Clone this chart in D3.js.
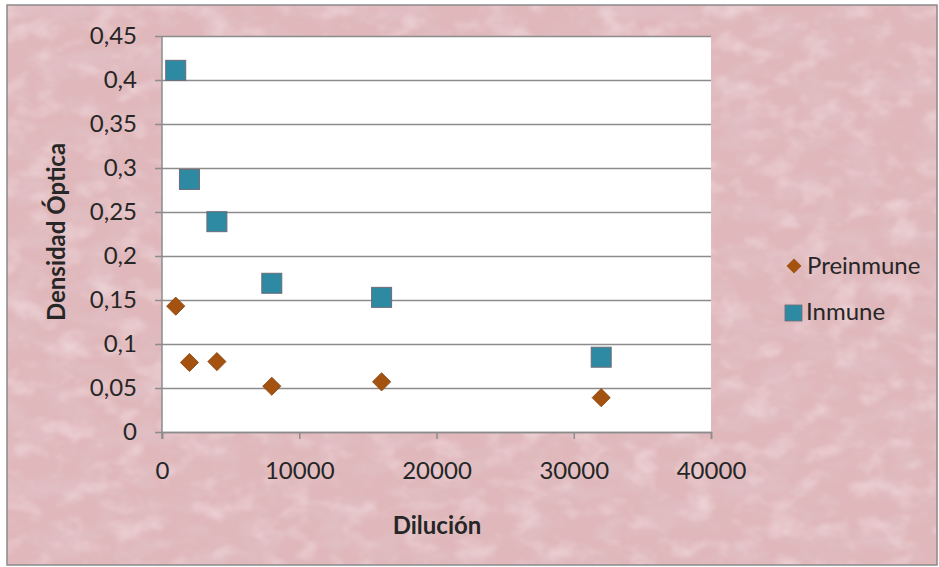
<!DOCTYPE html>
<html>
<head>
<meta charset="utf-8">
<script src="https://cdn.jsdelivr.net/npm/d3@7"></script>
<style>
  html, body { margin: 0; padding: 0; background: #ffffff; }
  svg { display: block; }
  text { font-family: Lato, "Open Sans", "Liberation Sans", sans-serif; fill: #262626; }
</style>
</head>
<body>
<svg id="chart" width="939" height="567"></svg>
<script>
// Dilution series and optical density readings
const diluciones = [1000, 2000, 4000, 8000, 16000, 32000];
const preinmune  = [0.143, 0.079, 0.080, 0.052, 0.057, 0.039];
const inmune     = [0.411, 0.287, 0.239, 0.169, 0.153, 0.085];
const xTicks = [0, 10000, 20000, 30000, 40000];
const yTicks = [0, 0.05, 0.1, 0.15, 0.2, 0.25, 0.3, 0.35, 0.4, 0.45];
const seriesNames = ["Preinmune", "Inmune"];

const W = 939, H = 567;
const plot = { left: 162, right: 711, top: 36, bottom: 432 };
const FS = 24;

const svg = d3.select("#chart");

// Soft mottled pink paper texture: darker and lighter blotches over a base tone
const defs = svg.append("defs");
const f = defs.append("filter").attr("id", "paper")
  .attr("x", 0).attr("y", 0).attr("width", "100%").attr("height", "100%");
f.append("feTurbulence").attr("type", "fractalNoise")
  .attr("baseFrequency", "0.025 0.04").attr("numOctaves", 4).attr("seed", 5).attr("result", "n1");
f.append("feColorMatrix").attr("in", "n1").attr("type", "matrix")
  .attr("values", "0 0 0 0 0.76  0 0 0 0 0.57  0 0 0 0 0.6  1.3 0 0 0 -0.6").attr("result", "dark");
f.append("feTurbulence").attr("type", "fractalNoise")
  .attr("baseFrequency", "0.035 0.05").attr("numOctaves", 3).attr("seed", 11).attr("result", "n2");
f.append("feColorMatrix").attr("in", "n2").attr("type", "matrix")
  .attr("values", "0 0 0 0 1  0 0 0 0 0.9  0 0 0 0 0.91  0.9 0 0 0 -0.45").attr("result", "lightRaw");
f.append("feGaussianBlur").attr("in", "lightRaw").attr("stdDeviation", 1.2).attr("result", "light");
f.append("feMerge").call(m => {
  m.append("feMergeNode").attr("in", "SourceGraphic");
  m.append("feMergeNode").attr("in", "dark");
  m.append("feMergeNode").attr("in", "light");
}).attr("result", "merged");
f.append("feComposite").attr("in", "merged").attr("in2", "SourceGraphic").attr("operator", "in");

svg.append("rect").attr("x", 0).attr("y", 0).attr("width", W).attr("height", H).attr("fill", "#ffffff");
svg.append("rect").attr("x", 7).attr("y", 5).attr("width", 930).attr("height", 560)
  .attr("fill", "#e0b8bc").attr("filter", "url(#paper)");
svg.append("rect").attr("x", 7).attr("y", 5).attr("width", 930).attr("height", 560)
  .attr("fill", "none").attr("stroke", "#8a8a8a").attr("stroke-width", 1.5);

const x = d3.scaleLinear().domain([0, 40000]).range([plot.left, plot.right]);
const y = d3.scaleLinear().domain([0, 0.45]).range([plot.bottom, plot.top]);

// Plot area
svg.append("rect").attr("x", plot.left).attr("y", plot.top)
  .attr("width", plot.right - plot.left).attr("height", plot.bottom - plot.top)
  .attr("fill", "#ffffff");

const fmtY = d => d3.format(".2~f")(d).replace(".", ",");

// Y axis with gridlines
const yAxis = svg.append("g").attr("transform", `translate(${plot.left},0)`)
  .call(d3.axisLeft(y).tickValues(yTicks).tickFormat(fmtY)
    .tickSize(-(plot.right - plot.left)).tickPadding(25));
yAxis.select(".domain").remove();
yAxis.selectAll(".tick line").attr("stroke", "#8c8c8c").attr("stroke-width", 1.5)
  .attr("x1", -7);
yAxis.selectAll(".tick text").attr("font-size", FS).attr("fill", "#262626");

// X axis
const xAxis = svg.append("g").attr("transform", `translate(0,${plot.bottom})`)
  .call(d3.axisBottom(x).tickValues(xTicks).tickFormat(d3.format("d"))
    .tickSize(7).tickPadding(23));
xAxis.select(".domain").attr("stroke", "#8c8c8c").attr("stroke-width", 1.5);
xAxis.selectAll(".tick line").attr("stroke", "#8c8c8c").attr("stroke-width", 1.5);
xAxis.selectAll(".tick text").attr("font-size", FS).attr("fill", "#262626");

// Vertical axis line
svg.append("line").attr("x1", plot.left).attr("x2", plot.left)
  .attr("y1", plot.top).attr("y2", plot.bottom + 7)
  .attr("stroke", "#8c8c8c").attr("stroke-width", 1.5);

// Axis titles
svg.append("text").attr("transform", `translate(65,232) rotate(-90)`)
  .attr("text-anchor", "middle").attr("font-size", 24).attr("font-weight", "bold")
  .attr("fill", "#1a1a1a").text("Densidad Óptica");
svg.append("text").attr("x", 437).attr("y", 534)
  .attr("text-anchor", "middle").attr("font-size", FS).attr("font-weight", "bold")
  .attr("fill", "#1a1a1a").text("Dilución");

// Diamond: a square turned by 45 degrees
const diamond = d3.symbol().type(d3.symbolSquare).size(165);
const brown = "#a4520f", teal = "#2d8aa2";

// Preinmune: brown diamonds
svg.append("g").selectAll("path").data(diluciones.map((d, i) => [d, preinmune[i]]))
  .join("path")
  .attr("d", diamond)
  .attr("transform", d => `translate(${x(d[0])},${y(d[1])}) rotate(45)`)
  .attr("fill", brown).attr("stroke", "#8a4410").attr("stroke-width", 0.8);

// Inmune: teal squares
const sq = 20;
svg.append("g").selectAll("rect").data(diluciones.map((d, i) => [d, inmune[i]]))
  .join("rect")
  .attr("x", d => x(d[0]) - sq / 2).attr("y", d => y(d[1]) - sq / 2)
  .attr("width", sq).attr("height", sq)
  .attr("fill", teal).attr("stroke", "#6e6b78").attr("stroke-width", 1);

// Legend
const lg = svg.append("g");
lg.append("path").attr("d", d3.symbol().type(d3.symbolSquare).size(112))
  .attr("transform", "translate(794,266) rotate(45)").attr("fill", brown);
lg.append("text").attr("x", 807).attr("y", 274).attr("font-size", FS).text(seriesNames[0]);
lg.append("rect").attr("x", 785).attr("y", 305).attr("width", 17).attr("height", 16)
  .attr("fill", teal).attr("stroke", "#6e6b78").attr("stroke-width", 0.8);
lg.append("text").attr("x", 806).attr("y", 320).attr("font-size", FS).text(seriesNames[1]);
</script>
</body>
</html>
